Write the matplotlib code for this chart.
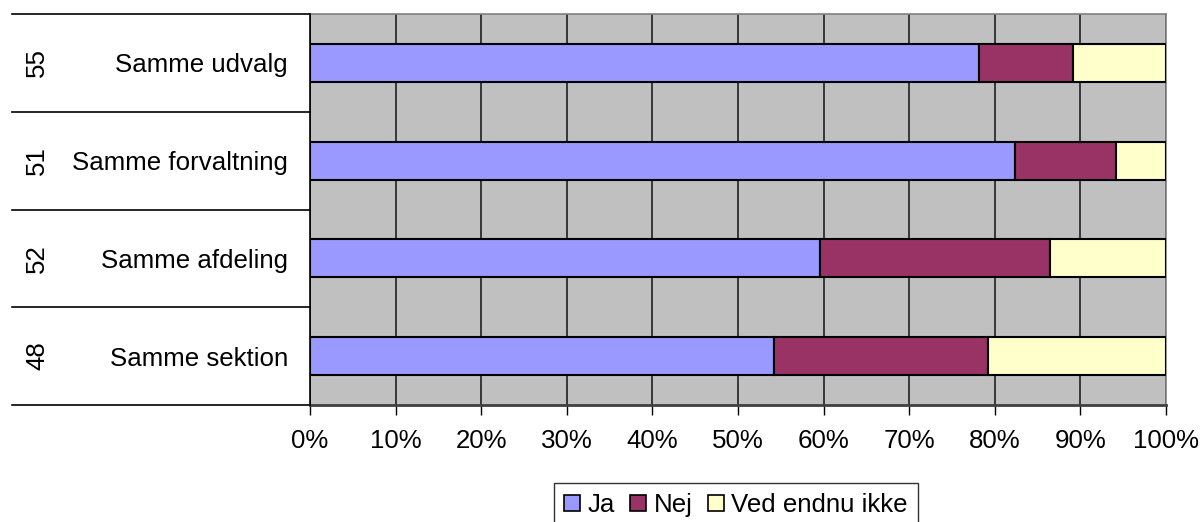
import matplotlib
matplotlib.use("Agg")
import matplotlib.pyplot as plt
import matplotlib.transforms as mtransforms
from matplotlib.patches import Patch

plt.rcParams['font.family'] = ['Liberation Sans', 'DejaVu Sans']

categories = ["Samme udvalg", "Samme forvaltning", "Samme afdeling", "Samme sektion"]
counts = ["55", "51", "52", "48"]
ja = [78.2, 82.4, 59.6, 54.2]
nej = [10.9, 11.8, 26.9, 25.0]
ved = [10.9, 5.8, 13.5, 20.8]
series_names = ["Ja", "Nej", "Ved endnu ikke"]
colors = ["#9999FF", "#993366", "#FFFFCC"]
xticks = list(range(0, 101, 10))
xticklabels = [f"{t}%" for t in xticks]

W, H = 1201, 522
FS = 18.6
fig = plt.figure(figsize=(W / 100, H / 100), dpi=100)
ax = fig.add_axes([310 / W, (H - 405) / H, 856 / W, 391 / H])
ax.set_facecolor("#C0C0C0")

ypos = list(range(len(categories)))
left = [0] * len(categories)
for vals, name, c in zip([ja, nej, ved], series_names, colors):
    ax.barh(ypos, vals, left=left, height=0.39, color=c, edgecolor="black",
            linewidth=1.5, label=name, zorder=3)
    left = [l + v for l, v in zip(left, vals)]

ax.set_xlim(0, 100)
ax.set_ylim(len(categories) - 0.5, -0.5)
ax.set_xticks(xticks)
ax.set_xticklabels(xticklabels, fontsize=FS)
ax.tick_params(axis="x", direction="out", length=7, width=1, pad=10, colors="black")
ax.xaxis.grid(True, color="#202020", linewidth=1.2, zorder=1)
ax.set_axisbelow(True)

ax.set_yticks(ypos)
ax.set_yticklabels(categories, fontsize=FS)
ax.tick_params(axis="y", length=0, pad=16)

for s in ["top", "right"]:
    ax.spines[s].set_color("#808080")
    ax.spines[s].set_linewidth(1.2)
ax.spines["left"].set_color("black")
ax.spines["left"].set_linewidth(1.2)
ax.spines["bottom"].set_color("#404040")
ax.spines["bottom"].set_linewidth(2)

# table lines on the left
trans = mtransforms.blended_transform_factory(ax.transAxes, ax.transData)
x_left = (12 - 310) / 856
for b in [-0.5, 0.5, 1.5, 2.5, 3.5]:
    ax.plot([x_left, 0], [b, b], transform=trans, color="black", linewidth=1.2,
            clip_on=False, zorder=5)

# sample counts, rotated
for y, n in zip(ypos, counts):
    ax.text((37 - 310) / 856, y, n, transform=trans, rotation=90, fontsize=FS,
            ha="center", va="center")

handles = [Patch(facecolor=c, edgecolor="black", linewidth=1.2) for c in colors]
leg = fig.legend(handles, series_names, loc="upper center",
                 bbox_to_anchor=(736 / W, (H - 483) / H), ncol=3, fontsize=FS,
                 frameon=True, fancybox=False, edgecolor="black",
                 handlelength=0.6, handleheight=0.6, handletextpad=0.3,
                 columnspacing=0.6, borderpad=0.4, borderaxespad=0)
leg.get_frame().set_linewidth(1.0)

fig.savefig("out.png", dpi=100)
